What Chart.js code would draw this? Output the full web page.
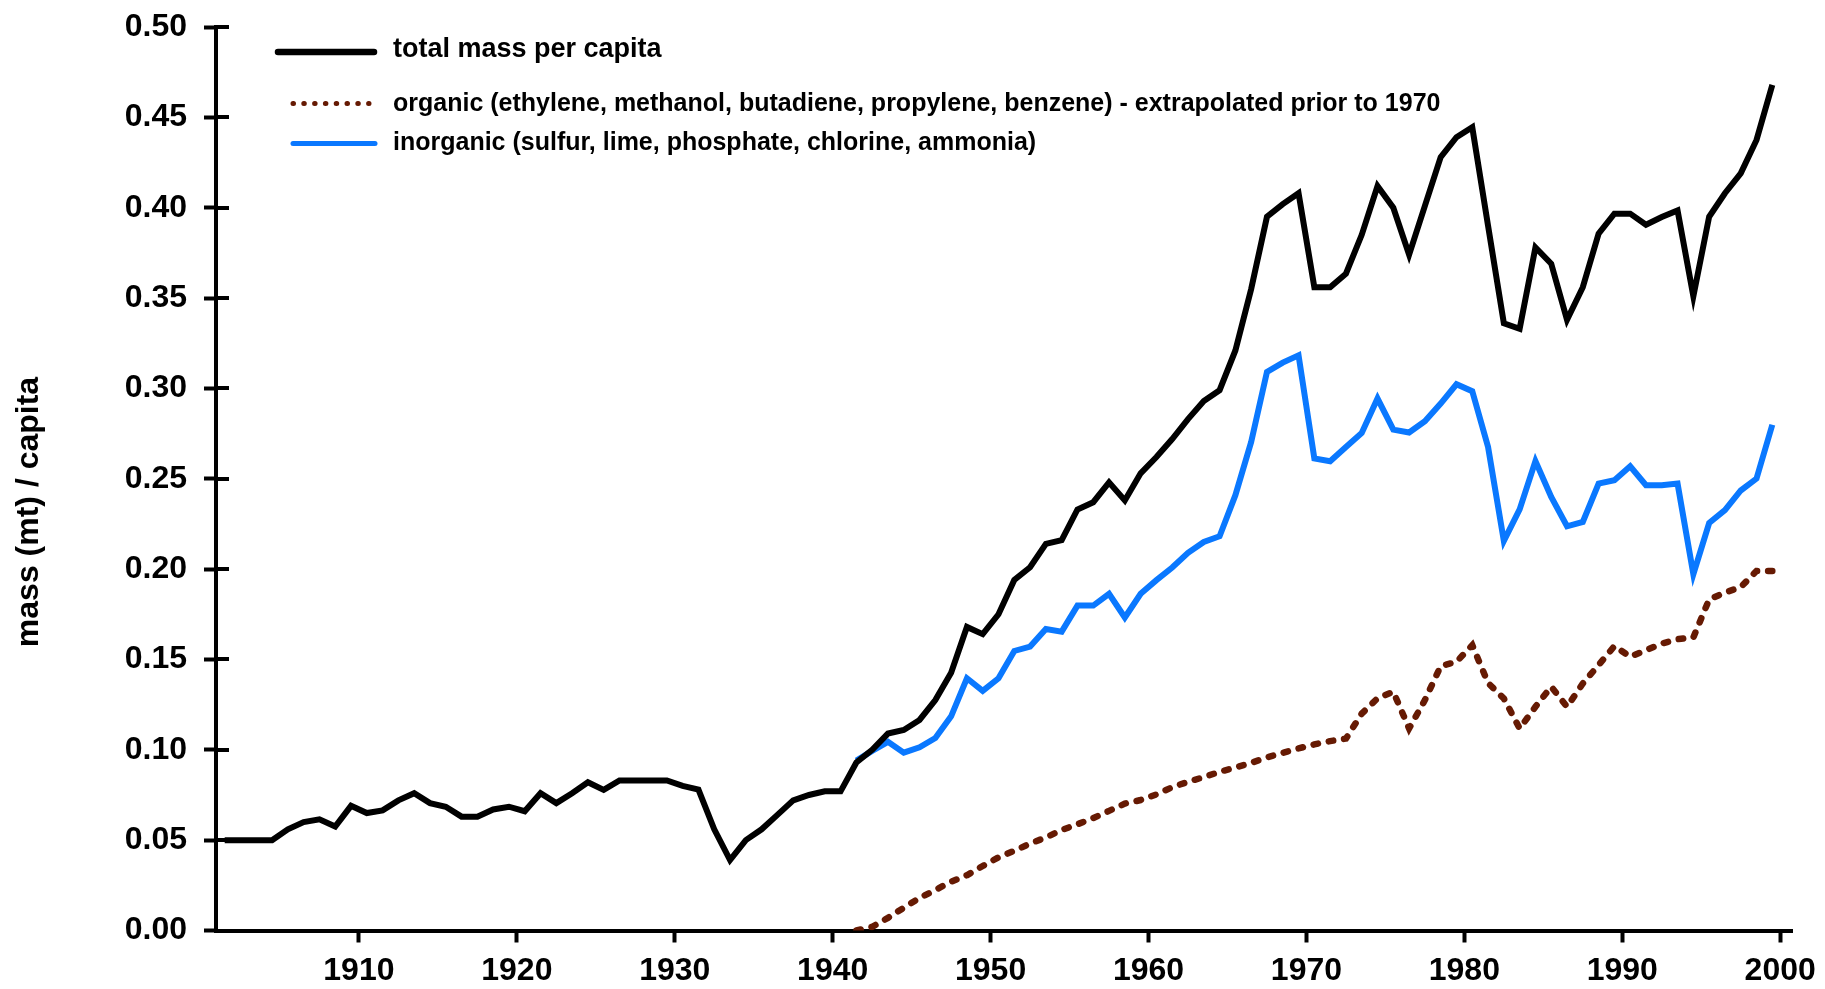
<!DOCTYPE html>
<html>
<head>
<meta charset="utf-8">
<script src="https://cdn.jsdelivr.net/npm/chart.js@4.4.1/dist/chart.umd.min.js"></script>
<style>
html,body{margin:0;padding:0;background:#fff;}
#wrap{position:relative;width:1825px;height:989px;}
</style>
</head>
<body>
<div id="wrap"><canvas id="c" width="1825" height="989"></canvas></div>
<script>
// ---------- data ----------
const years = [1901,1902,1903,1904,1905,1906,1907,1908,1909,1910,
  1911,1912,1913,1914,1915,1916,1917,1918,1919,1920,
  1921,1922,1923,1924,1925,1926,1927,1928,1929,1930,
  1931,1932,1933,1934,1935,1936,1937,1938,1939,1940,
  1941,1942,1943,1944,1945,1946,1947,1948,1949,1950,
  1951,1952,1953,1954,1955,1956,1957,1958,1959,1960,
  1961,1962,1963,1964,1965,1966,1967,1968,1969,1970,
  1971,1972,1973,1974,1975,1976,1977,1978,1979,1980,
  1981,1982,1983,1984,1985,1986,1987,1988,1989,1990,
  1991,1992,1993,1994,1995,1996,1997,1998,1999];

const totalMass = [0.050,0.050,0.050,0.050,0.056,0.060,0.0615,0.0575,0.069,0.065,
  0.0665,0.072,0.076,0.0705,0.0685,0.063,0.063,0.067,0.0685,0.066,
  0.076,0.0705,0.076,0.082,0.0778,0.083,0.083,0.083,0.083,0.080,
  0.078,0.056,0.039,0.050,0.056,0.064,0.072,0.075,0.077,0.077,
  0.093,0.100,0.109,0.111,0.1165,0.1275,0.1426,0.168,0.164,0.175,
  0.194,0.201,0.214,0.216,0.233,0.237,0.248,0.238,0.253,0.262,
  0.272,0.283,0.293,0.299,0.321,0.355,0.395,0.402,0.408,0.356,
  0.356,0.3635,0.385,0.412,0.400,0.374,0.401,0.428,0.439,0.4445,
  0.390,0.336,0.333,0.378,0.369,0.338,0.356,0.3857,0.3967,0.3967,
  0.3906,0.3948,0.3985,0.351,0.395,0.408,0.419,0.4375,0.468];

const chemYears = [1941,1942,1943,1944,1945,1946,1947,1948,1949,1950,
  1951,1952,1953,1954,1955,1956,1957,1958,1959,1960,
  1961,1962,1963,1964,1965,1966,1967,1968,1969,1970,
  1971,1972,1973,1974,1975,1976,1977,1978,1979,1980,
  1981,1982,1983,1984,1985,1986,1987,1988,1989,1990,
  1991,1992,1993,1994,1995,1996,1997,1998,1999];

const organic = [0.000,0.002,0.007,0.0126,0.018,0.0224,0.027,0.0306,0.0357,0.0405,
  0.0441,0.0481,0.0515,0.0556,0.0588,0.0622,0.0662,0.0702,0.0722,0.0753,
  0.0793,0.0823,0.0849,0.0878,0.0902,0.0928,0.0958,0.0983,0.1008,0.103,
  0.1048,0.1062,0.120,0.1285,0.1321,0.1118,0.1275,0.1463,0.1487,0.1579,
  0.137,0.1284,0.1118,0.1238,0.1349,0.1238,0.1367,0.1469,0.1574,0.1515,
  0.1551,0.1588,0.1612,0.1622,0.1832,0.187,0.190,0.199,0.199];

const inorganic = [0.094,0.0994,0.1044,0.0984,0.1014,0.1065,0.1185,0.1396,0.1326,0.1396,
  0.1547,0.1571,0.1668,0.1654,0.1798,0.1798,0.1863,0.1732,0.1863,0.1939,
  0.2009,0.209,0.215,0.2182,0.2409,0.2704,0.3091,0.3143,0.3183,0.2612,
  0.2597,0.2676,0.2753,0.2944,0.2772,0.2756,0.2818,0.2916,0.3023,0.2984,
  0.2676,0.2156,0.233,0.2598,0.2399,0.2237,0.2261,0.2473,0.2492,0.2569,
  0.2464,0.2464,0.2473,0.1972,0.2255,0.2326,0.2435,0.2501,0.2799];

const xTicks = [1910,1920,1930,1940,1950,1960,1970,1980,1990,2000];
const yTicks = [0,0.05,0.10,0.15,0.20,0.25,0.30,0.35,0.40,0.45,0.50];

const seriesNames = [
  'total mass per capita',
  'organic (ethylene, methanol, butadiene, propylene, benzene) - extrapolated prior to 1970',
  'inorganic (sulfur, lime, phosphate, chlorine, ammonia)'
];
const yTitle = 'mass (mt) / capita';

// ---------- styling ----------
const BLACK = '#000000';
const BROWN = '#661a03';
const BLUE = '#0a78ff';
const FONT = '"Liberation Sans", Arial, Helvetica, sans-serif';

// points are plotted at mid-year
const toPts = (xs, ys) => xs.map((x, i) => ({x: x + 0.5, y: ys[i]}));

const extras = {
  id: 'extras',
  afterDraw(chart) {
    const ctx = chart.ctx;
    const ca = chart.chartArea;
    const ys = chart.scales.y;
    ctx.save();
    // inner half of y ticks (ticks cross the axis)
    ctx.strokeStyle = BLACK;
    ctx.lineWidth = 4;
    ctx.lineCap = 'butt';
    yTicks.forEach(v => {
      const p = Math.round(ys.getPixelForValue(v));
      ctx.beginPath();
      ctx.moveTo(ca.left, p);
      ctx.lineTo(ca.left + 13, p);
      ctx.stroke();
    });
    // y axis title
    ctx.save();
    ctx.translate(29, 512);
    ctx.rotate(-Math.PI / 2);
    ctx.fillStyle = BLACK;
    ctx.font = 'bold 32px ' + FONT;
    ctx.textAlign = 'center';
    ctx.textBaseline = 'middle';
    ctx.fillText(yTitle, 0, 0);
    ctx.restore();
    // legend
    const line = (x1, y, x2) => { ctx.beginPath(); ctx.moveTo(x1, y); ctx.lineTo(x2, y); ctx.stroke(); };
    ctx.lineCap = 'round';
    ctx.setLineDash([]);
    ctx.strokeStyle = BLACK; ctx.lineWidth = 6.5;
    line(278, 52, 374);
    ctx.strokeStyle = BROWN; ctx.lineWidth = 5; ctx.setLineDash([0.5, 10.3]);
    line(293, 103.5, 369);
    ctx.setLineDash([]);
    ctx.strokeStyle = BLUE; ctx.lineWidth = 5;
    line(293, 143.5, 375);
    ctx.fillStyle = BLACK;
    ctx.textAlign = 'left';
    ctx.textBaseline = 'middle';
    ctx.font = 'bold 27px ' + FONT;
    ctx.fillText(seriesNames[0], 393, 50);
    ctx.font = 'bold 25px ' + FONT;
    ctx.fillText(seriesNames[1], 393, 104);
    ctx.fillText(seriesNames[2], 393, 143);
    ctx.restore();
  }
};

new Chart(document.getElementById('c'), {
  type: 'line',
  data: {
    datasets: [
      { label: seriesNames[0], data: toPts(years, totalMass), borderColor: BLACK, borderWidth: 6,
        borderJoinStyle: 'miter', order: 1 },
      { label: seriesNames[1], data: toPts(chemYears, organic), borderColor: BROWN, borderWidth: 6.5,
        borderDash: [4.5, 11], borderCapStyle: 'round', order: 3 },
      { label: seriesNames[2], data: toPts(chemYears, inorganic), borderColor: BLUE, borderWidth: 6,
        borderJoinStyle: 'miter', order: 2 }
    ]
  },
  options: {
    responsive: false,
    animation: false,
    devicePixelRatio: 1,
    parsing: false,
    layout: { padding: { top: 27, right: 24, left: 0, bottom: 0 } },
    elements: { point: { radius: 0 }, line: { tension: 0, fill: false } },
    plugins: { legend: { display: false }, tooltip: { enabled: false } },
    scales: {
      x: {
        type: 'linear', min: 1900.95, max: 2000.8,
        afterBuildTicks: s => { s.ticks = xTicks.map(v => ({value: v})); },
        afterFit: s => { s.height = 58.5; },
        grid: { drawOnChartArea: false, drawTicks: true, tickLength: 12, tickWidth: 4, tickColor: BLACK },
        border: { display: true, width: 4, color: BLACK },
        ticks: { color: BLACK, padding: 9, maxRotation: 0, autoSkip: false,
          font: { family: FONT, weight: 'bold', size: 32 },
          callback: v => String(v) }
      },
      y: {
        type: 'linear', min: 0, max: 0.5,
        afterBuildTicks: s => { s.ticks = yTicks.map(v => ({value: v})); },
        afterFit: s => { s.width = 216; s.paddingTop = 0; s.paddingBottom = 0; },
        grid: { drawOnChartArea: false, drawTicks: true, tickLength: 12, tickWidth: 4, tickColor: BLACK },
        border: { display: true, width: 4, color: BLACK },
        ticks: { color: BLACK, padding: 17, autoSkip: false,
          font: { family: FONT, weight: 'bold', size: 32 },
          callback: v => Number(v).toFixed(2) }
      }
    }
  },
  plugins: [extras]
});
</script>
</body>
</html>
